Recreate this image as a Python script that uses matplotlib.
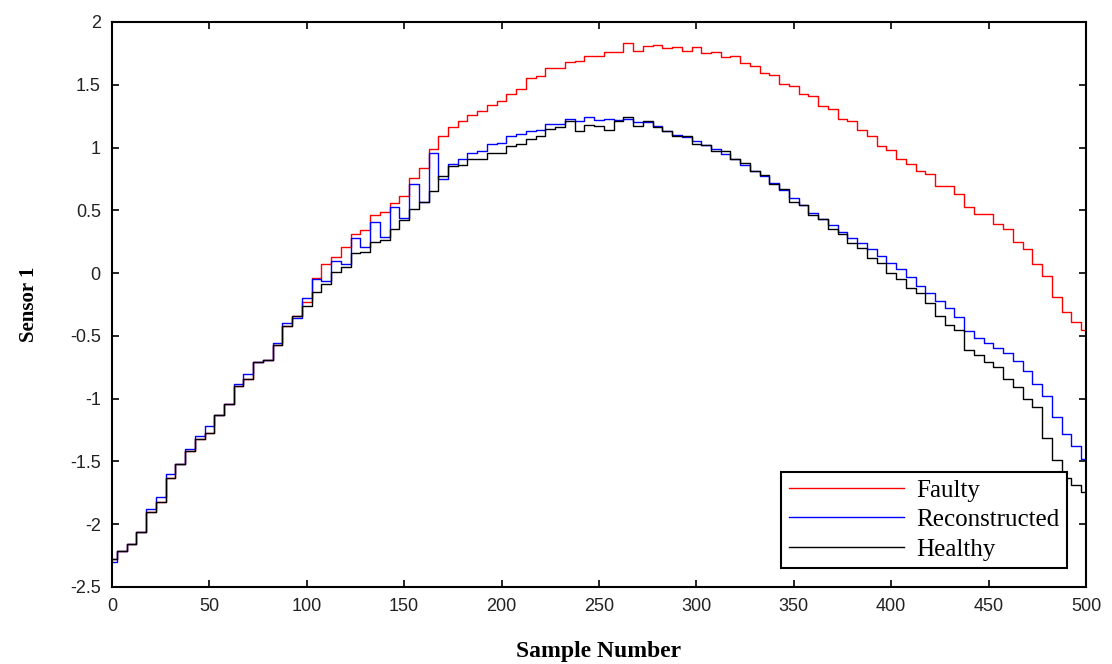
import numpy as np
import matplotlib
matplotlib.use("Agg")
import matplotlib.pyplot as plt

# sample index, one reading every 5 samples
samples = np.arange(0, 501, 5)

healthy = [
    -2.28, -2.21, -2.16, -2.06, -1.90, -1.82, -1.63, -1.52, -1.42, -1.32,
    -1.27, -1.13, -1.04, -0.90, -0.84, -0.71, -0.69, -0.57, -0.42, -0.34,
    -0.26, -0.15, -0.09, 0.01, 0.05, 0.16, 0.17, 0.25, 0.26, 0.35,
    0.42, 0.51, 0.57, 0.65, 0.77, 0.85, 0.86, 0.91, 0.91, 0.96,
    0.96, 1.01, 1.03, 1.07, 1.09, 1.15, 1.16, 1.21, 1.13, 1.18,
    1.17, 1.14, 1.21, 1.24, 1.17, 1.21, 1.16, 1.13, 1.09, 1.09,
    1.03, 1.02, 0.97, 0.97, 0.91, 0.88, 0.81, 0.78, 0.71, 0.67,
    0.57, 0.54, 0.46, 0.43, 0.35, 0.31, 0.24, 0.20, 0.12, 0.08,
    0.00, -0.05, -0.12, -0.16, -0.24, -0.34, -0.41, -0.45, -0.61, -0.65,
    -0.71, -0.75, -0.84, -0.91, -1.00, -1.07, -1.31, -1.49, -1.63, -1.69,
    -1.74]

faulty = [
    -2.28, -2.21, -2.16, -2.06, -1.90, -1.82, -1.63, -1.52, -1.42, -1.32,
    -1.27, -1.13, -1.04, -0.90, -0.84, -0.71, -0.69, -0.57, -0.42, -0.34,
    -0.23, -0.04, 0.07, 0.13, 0.21, 0.31, 0.34, 0.46, 0.49, 0.56,
    0.61, 0.76, 0.84, 0.99, 1.09, 1.16, 1.21, 1.26, 1.29, 1.34,
    1.37, 1.43, 1.47, 1.55, 1.57, 1.63, 1.63, 1.68, 1.69, 1.73,
    1.73, 1.76, 1.76, 1.83, 1.77, 1.81, 1.82, 1.79, 1.80, 1.77,
    1.80, 1.75, 1.76, 1.72, 1.73, 1.67, 1.65, 1.59, 1.58, 1.51,
    1.49, 1.43, 1.41, 1.33, 1.31, 1.23, 1.21, 1.14, 1.09, 1.01,
    0.98, 0.91, 0.87, 0.81, 0.79, 0.69, 0.69, 0.63, 0.53, 0.47,
    0.47, 0.39, 0.35, 0.25, 0.19, 0.07, -0.02, -0.19, -0.31, -0.39,
    -0.45]

reconstructed = [
    -2.30, -2.21, -2.16, -2.06, -1.88, -1.78, -1.60, -1.52, -1.40, -1.30,
    -1.22, -1.13, -1.04, -0.88, -0.80, -0.71, -0.69, -0.56, -0.40, -0.36,
    -0.20, -0.05, -0.06, 0.10, 0.07, 0.28, 0.21, 0.41, 0.29, 0.53,
    0.44, 0.71, 0.57, 0.96, 0.75, 0.87, 0.91, 0.96, 0.97, 1.03,
    1.04, 1.09, 1.11, 1.13, 1.14, 1.19, 1.19, 1.23, 1.21, 1.24,
    1.22, 1.23, 1.22, 1.23, 1.20, 1.20, 1.17, 1.13, 1.10, 1.08,
    1.05, 1.02, 0.99, 0.95, 0.91, 0.86, 0.81, 0.77, 0.72, 0.66,
    0.60, 0.54, 0.48, 0.43, 0.38, 0.33, 0.28, 0.24, 0.19, 0.14,
    0.08, 0.03, -0.03, -0.10, -0.16, -0.22, -0.28, -0.35, -0.46, -0.52,
    -0.56, -0.60, -0.64, -0.70, -0.78, -0.88, -0.98, -1.15, -1.28, -1.38,
    -1.48]

fig = plt.figure(figsize=(11.12, 6.64), dpi=100)
ax = fig.add_axes([0.1007, 0.116, 0.8759, 0.8509])

# staircase look like the original sampled signal
ax.plot(samples, faulty, color="red", lw=1.0, drawstyle="steps-mid", label="Faulty")
ax.plot(samples, reconstructed, color="blue", lw=1.0, drawstyle="steps-mid",
        label="Reconstructed")
ax.plot(samples, healthy, color="black", lw=1.0, drawstyle="steps-mid", label="Healthy")

ax.set_xlim(0, 500)
ax.set_ylim(-2.5, 2)
ax.set_xticks(np.arange(0, 501, 50))
ax.set_yticks(np.arange(-2.5, 2.01, 0.5))
ax.set_yticklabels(["-2.5", "-2", "-1.5", "-1", "-0.5", "0", "0.5", "1", "1.5", "2"])

ax.tick_params(direction="in", length=5, width=1.2, top=True, right=True,
               labelsize=13, colors="black", pad=8)
for lab in ax.get_xticklabels() + ax.get_yticklabels():
    lab.set_family("Liberation Sans")
    lab.set_color("#222222")
for sp in ax.spines.values():
    sp.set_linewidth(1.5)

ax.set_xlabel("Sample Number", family="Liberation Serif", fontweight="bold",
              fontsize=17, labelpad=19)
ax.set_ylabel("Sensor 1", family="Liberation Serif", fontweight="bold",
              fontsize=15, labelpad=22)

leg = ax.legend(loc="lower right", prop={"family": "Liberation Serif", "size": 18},
                fancybox=False, edgecolor="black", framealpha=1,
                handlelength=4.6, borderaxespad=0.75, labelspacing=0.28,
                handletextpad=0.5, borderpad=0.3)
leg.get_frame().set_linewidth(1.5)

plt.savefig("out.png", dpi=100)
